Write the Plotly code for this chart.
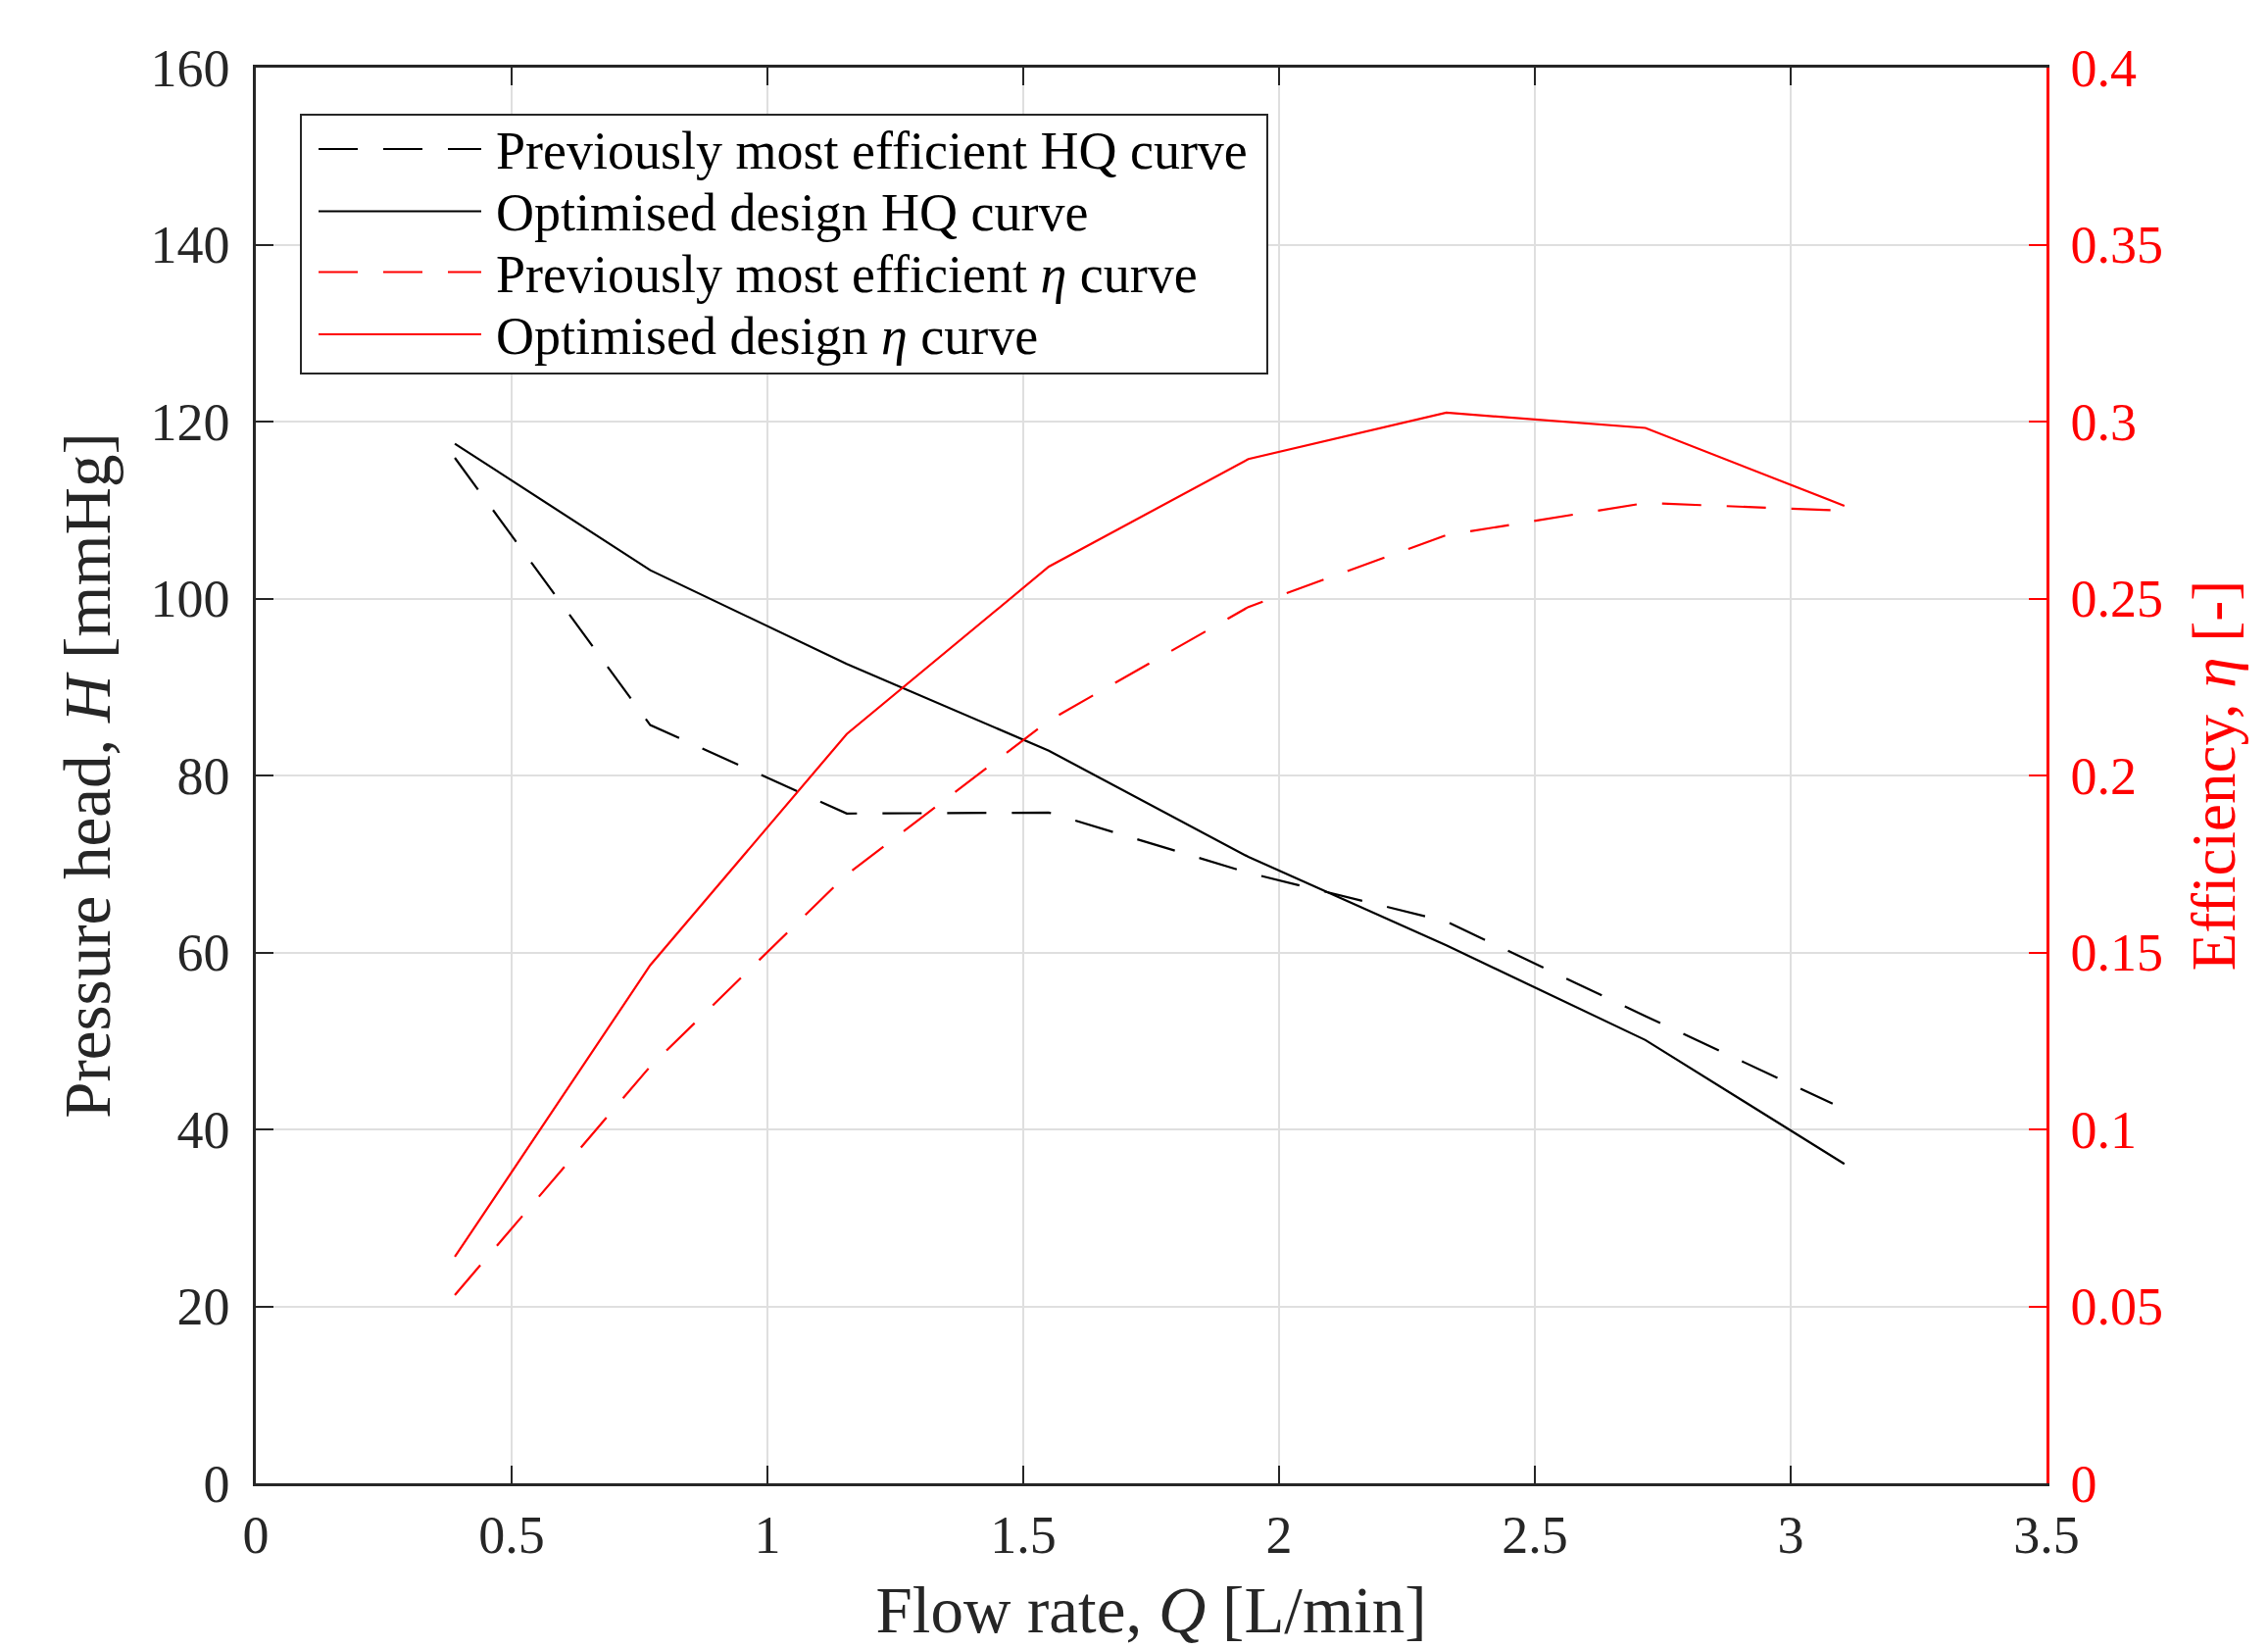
import plotly.graph_objects as go

# Flow rate [L/min]
Q_opt = [0.389, 0.771, 1.155, 1.550, 1.940, 2.327, 2.716, 3.105]
Q_prev_H = [0.389, 0.771, 1.155, 1.550, 1.940, 2.327, 2.716, 3.082]
Q_prev_eta = [0.389, 0.771, 1.155, 1.550, 1.940, 2.327, 2.716, 3.105]

# Pressure head [mmHg]
H_prev = [115.9, 85.7, 75.7, 75.8, 69.0, 63.5, 52.8, 42.9]
H_opt = [117.5, 103.2, 92.6, 82.8, 70.8, 60.8, 50.1, 36.1]

# Efficiency [-]
eta_prev = [0.0532, 0.1178, 0.1720, 0.2155, 0.2476, 0.2679, 0.2770, 0.2748]
eta_opt = [0.0640, 0.1464, 0.2117, 0.2590, 0.2894, 0.3025, 0.2982, 0.2762]

names = [
    "Previously most efficient HQ curve",
    "Optimised design HQ curve",
    "Previously most efficient <i>η</i> curve",
    "Optimised design <i>η</i> curve",
]

FONT = "Liberation Serif"
AX = "#262626"
RED = "#ff0000"
DASH = "40px,26px"
LW = 2.2

W, H = 2314, 1681
ML, MR, MT, MB = 253, 234, 61, 176
PW, PH = W - ML - MR, H - MT - MB


def px2paper_x(px):
    return (px - ML) / PW


def px2paper_y(py):
    return (H - MB - py) / PH


styles = [
    dict(color="black", dash=DASH, yaxis="y"),
    dict(color="black", dash="solid", yaxis="y"),
    dict(color=RED, dash=DASH, yaxis="y2"),
    dict(color=RED, dash="solid", yaxis="y2"),
]
series = [(Q_prev_H, H_prev), (Q_opt, H_opt), (Q_prev_eta, eta_prev), (Q_opt, eta_opt)]

fig = go.Figure()
for (xs, ys), nm, st in zip(series, names, styles):
    fig.add_trace(go.Scatter(x=xs, y=ys, mode="lines", name=nm, showlegend=False,
                             line=dict(color=st["color"], width=LW, dash=st["dash"]),
                             yaxis=st["yaxis"]))

# Legend drawn as layout decoration (box, sample lines, labels)
shapes = []
annotations = []
box_l, box_r, box_t, box_b = 299, 1285, 109, 373
shapes.append(dict(type="rect", xref="paper", yref="paper",
                   x0=px2paper_x(box_l), x1=px2paper_x(box_r),
                   y0=px2paper_y(box_b), y1=px2paper_y(box_t),
                   line=dict(color=AX, width=2), fillcolor="white", layer="above"))
row_y = [144, 207.5, 269.5, 333]
for ry, nm, st in zip(row_y, names, styles):
    shapes.append(dict(type="line", xref="paper", yref="paper",
                       x0=px2paper_x(317), x1=px2paper_x(483),
                       y0=px2paper_y(ry), y1=px2paper_y(ry),
                       line=dict(color=st["color"], width=LW, dash=st["dash"]),
                       layer="above"))
    annotations.append(dict(xref="paper", yref="paper",
                            x=px2paper_x(496), y=px2paper_y(ry + 2),
                            xanchor="left", yanchor="middle", showarrow=False,
                            text=nm, font=dict(family=FONT, size=54, color="black")))

fig.update_layout(
    width=W, height=H,
    margin=dict(l=ML, r=MR, t=MT, b=MB, pad=0),
    plot_bgcolor="white", paper_bgcolor="white",
    font=dict(family=FONT, size=54, color=AX),
    showlegend=False,
    shapes=shapes,
    annotations=annotations,
    xaxis=dict(
        range=[0, 3.5], tick0=0, dtick=0.5,
        ticks="inside", ticklen=18, tickwidth=2, tickcolor=AX,
        showline=True, linecolor=AX, linewidth=2.5, mirror="ticks",
        showgrid=True, gridcolor="#dfdfdf", gridwidth=2, zeroline=False,
        tickfont=dict(family=FONT, size=54, color=AX),
        ticklabelstandoff=3,
        title=dict(text="Flow rate, <i>Q</i> [L/min]",
                   font=dict(family=FONT, size=67, color=AX), standoff=24),
        automargin=False,
    ),
    yaxis=dict(
        range=[0, 160], tick0=0, dtick=20,
        ticks="inside", ticklen=18, tickwidth=2, tickcolor=AX,
        showline=True, linecolor=AX, linewidth=2.5, mirror=False,
        showgrid=True, gridcolor="#dfdfdf", gridwidth=2, zeroline=False,
        tickfont=dict(family=FONT, size=54, color=AX),
        ticklabelstandoff=13,
        title=dict(text="Pressure head, <i>H</i> [mmHg]",
                   font=dict(family=FONT, size=67, color=AX), standoff=20),
        automargin=False,
    ),
    yaxis2=dict(
        range=[0, 0.4], tick0=0, dtick=0.05,
        overlaying="y", side="right", anchor="x",
        ticks="inside", ticklen=18, tickwidth=2, tickcolor=RED,
        showline=True, linecolor=RED, linewidth=2.5,
        showgrid=False, zeroline=False,
        tickfont=dict(family=FONT, size=54, color=RED),
        ticklabelstandoff=11,
        title=dict(text="Efficiency, <i>η</i> [-]",
                   font=dict(family=FONT, size=63, color=RED), standoff=30),
        automargin=False,
    ),
)

fig.write_html("out.html")
